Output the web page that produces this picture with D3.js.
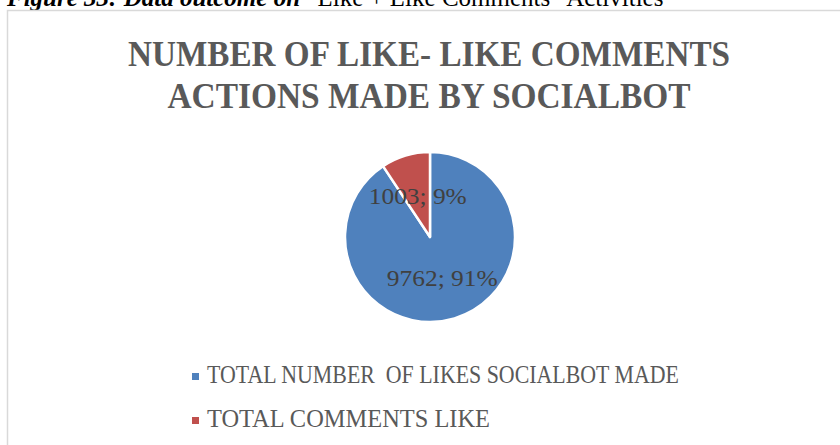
<!DOCTYPE html>
<html>
<head>
<meta charset="utf-8">
<script src="https://cdn.jsdelivr.net/npm/d3@7"></script>
<style>
  html, body { margin: 0; padding: 0; background: #fff; overflow: hidden; }
  svg { display: block; }
</style>
</head>
<body>
<svg id="chart" width="840" height="445"></svg>
<script>
// chart data
const categories = ['TOTAL NUMBER  OF LIKES SOCIALBOT MADE', 'TOTAL COMMENTS LIKE'];
const values     = [9762, 1003];
const colors     = ['#4f81bd', '#c0504d'];
const titleLines = ['NUMBER OF LIKE- LIKE COMMENTS', 'ACTIONS MADE BY SOCIALBOT'];

const svg = d3.select('#chart');
const serif = '"Liberation Serif", "Times New Roman", serif';

// fits a text node to a given width (image is a bit squeezed horizontally)
function fit(sel, w) {
    sel.attr('textLength', w).attr('lengthAdjust', 'spacingAndGlyphs');
}

// caption of the figure above the chart, cut off by the page edge
const cap = svg.append('text')
    .attr('x', 7).attr('y', 6)
    .attr('font-family', serif).attr('font-size', 25).attr('fill', '#000');
cap.append('tspan').attr('font-weight', 'bold').attr('font-style', 'italic').text('Figure 33: Data outcome on ');
cap.append('tspan').text('\u201cLike + Like Comments\u201d Activities');

// chart area border
svg.append('rect')
    .attr('x', 7.5).attr('y', 10.5)
    .attr('width', 900).attr('height', 500)
    .attr('fill', 'none').attr('stroke', '#d9d9d9').attr('stroke-width', 1.5);

// title
const titleW = [602, 523];
svg.selectAll('.title')
    .data(titleLines)
    .enter()
    .append('text')
    .attr('class', 'title')
    .attr('x', 429)
    .attr('y', (d, i) => 66 + i * 42)
    .attr('text-anchor', 'middle')
    .attr('font-family', serif)
    .attr('font-weight', 'bold')
    .attr('font-size', 36)
    .attr('fill', '#595959')
    .text(d => d)
    .each(function (d, i) { fit(d3.select(this), titleW[i]); });

// pie
const cx = 430, cy = 237, r = 85;
const pie = d3.pie().sort(null).value(d => d)(values);
const arc = d3.arc().innerRadius(0).outerRadius(r);
const total = d3.sum(values);

const g = svg.append('g').attr('transform', `translate(${cx}, ${cy})`);

g.selectAll('path')
    .data(pie)
    .enter()
    .append('path')
    .attr('d', arc)
    .attr('fill', (d, i) => colors[i])
    .attr('stroke', '#fff')
    .attr('stroke-width', 2.5)
    .attr('stroke-linejoin', 'round');

const labelW = [111, 98];
g.selectAll('.lbl')
    .data(pie)
    .enter()
    .append('text')
    .attr('class', 'lbl')
    .attr('x', d => arc.centroid(d)[0])
    .attr('y', d => arc.centroid(d)[1] + 8)
    .attr('text-anchor', 'middle')
    .attr('font-family', serif)
    .attr('font-size', 23)
    .attr('fill', '#404040')
    .text(d => `${d.value}; ${Math.round(d.value / total * 100)}%`)
    .each(function (d, i) { fit(d3.select(this), labelW[i]); });

// legend
const legendW = [472, 283];
const lg = svg.selectAll('.legend')
    .data(categories)
    .enter()
    .append('g')
    .attr('class', 'legend')
    .attr('transform', (d, i) => `translate(192, ${383 + i * 44})`);

lg.append('rect')
    .attr('x', 0).attr('y', -10)
    .attr('width', 7).attr('height', 7)
    .attr('fill', (d, i) => colors[i]);

lg.append('text')
    .attr('x', 15).attr('y', 0)
    .attr('font-family', serif)
    .attr('font-size', 25)
    .attr('fill', '#595959')
    .attr('xml:space', 'preserve')
    .style('white-space', 'pre')
    .text(d => d)
    .each(function (d, i) { fit(d3.select(this), legendW[i]); });
</script>
</body>
</html>
